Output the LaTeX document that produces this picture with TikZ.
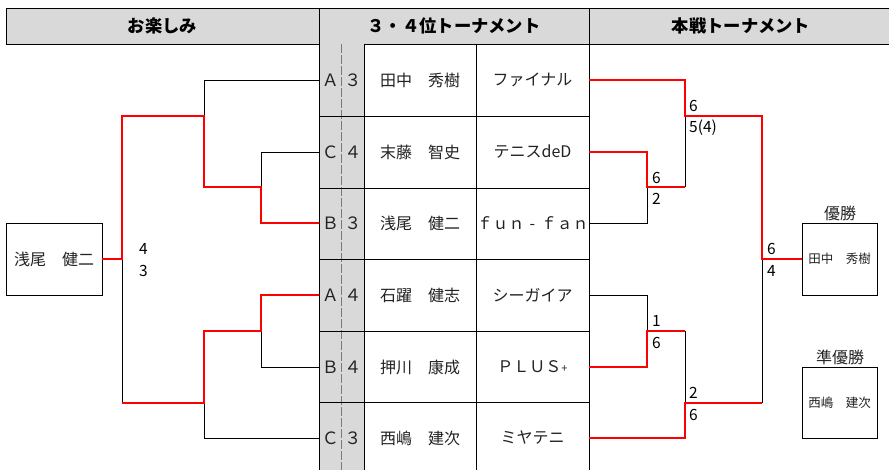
\documentclass[tikz,border=0pt]{standalone}
\usepackage{fontspec}
\setmainfont{Noto Sans CJK JP}
\definecolor{hdrgray}{HTML}{D9D9D9}
\definecolor{dashgray}{HTML}{7A7A7A}
\definecolor{txt}{HTML}{222222}
\begin{document}
\begin{tikzpicture}[x=1pt,y=-1pt,
  win/.style={draw=red,line width=1.9pt},
  lose/.style={draw=black,line width=0.9pt},
  grid/.style={draw=black,line width=0.9pt},
  head/.style={inner sep=0pt,font=\fontsize{17.3}{18}\selectfont\bfseries},
  lettercell/.style={inner sep=0pt,minimum width=22.5pt,minimum height=71pt,text=txt,font=\fontsize{17}{17}\selectfont},
  placecell/.style={inner sep=0pt,minimum width=22.5pt,minimum height=71pt,text=txt,font=\fontsize{17}{17}\selectfont},
  namecell/.style={inner sep=0pt,minimum width=112pt,minimum height=71pt,text=txt,font=\fontsize{16}{16}\selectfont},
  teamcell/.style={inner sep=0pt,minimum width=113pt,minimum height=71pt,text=txt,font=\fontsize{16}{16}\selectfont},
  resultbox/.style={draw=black,line width=0.9pt,inner sep=0pt,text=txt},
  boxlabel/.style={inner sep=0pt,text=txt,font=\fontsize{16}{16}\selectfont},
  score/.style={inner sep=0pt,anchor=west,text=black,font=\fontsize{15.5}{15.5}\selectfont}]
\useasboundingbox (0,0) rectangle (889,470);
% header
\fill[hdrgray] (6,8) rectangle (889,44);
\draw[grid] (889,8) -- (6,8) -- (6,44) -- (889,44);
\node[head] (h1) at (162.5,26) {お楽しみ};
\node[head] (h2) at (454,26) {３・４位トーナメント};
\node[head] (h3) at (741,26) {本戦トーナメント};
% table background
\fill[hdrgray] (319,44) rectangle (364,470);
\draw[dashgray,line width=1.2pt,dash pattern=on 9pt off 2pt] (341.5,44) -- (341.5,470);
\draw[grid] (319,8) -- (319,470);
\draw[grid] (589,8) -- (589,470);
\draw[grid] (364,44) -- (364,470);
\draw[grid] (476,44) -- (476,470);
\foreach \yy in {116,188,259,331,402} \draw[grid] (319,\yy) -- (589,\yy);
% cells
\foreach \i/\yy/\g/\p/\n/\t in {
  1/80/Ａ/３/田中　秀樹/ファイナル,
  2/152/Ｃ/４/末藤　智史/テニスdeD,
  3/223/Ｂ/３/浅尾　健二/ｆｕｎ\makebox[1em]{-}ｆａｎ,
  4/295/Ａ/４/石躍　健志/シーガイア,
  5/367/Ｂ/４/押川　康成/ＰＬＵＳ\raisebox{0.5pt}{\fontsize{11}{11}\selectfont +},
  6/438/Ｃ/３/西嶋　建次/ミヤテニ}{
  \node[lettercell] (g\i) at (330.25,\yy) {\g};
  \node[placecell] (p\i) at (352.75,\yy) {\p};
  \node[namecell] (n\i) at (420,\yy) {\n};
  \node[teamcell] (t\i) at (532.5,\yy) {\t};
}
% boxes
\node[resultbox,minimum width=96pt,minimum height=72pt,font=\fontsize{16}{16}\selectfont] (lb) at (54,259) {浅尾　健二};
\node[resultbox,minimum width=75pt,minimum height=72pt,font=\fontsize{12.5}{13}\selectfont] (wb) at (839.5,259) {田中　秀樹};
\node[resultbox,minimum width=75pt,minimum height=71pt,font=\fontsize{12.5}{13}\selectfont] (rb) at (839.5,402.5) {西嶋　建次};
\node[boxlabel,anchor=south] (wl) at (840,221) {優勝};
\node[boxlabel,anchor=south] (rl) at (840,365) {準優勝};
% junctions
\coordinate (L1) at (261,187);
\coordinate (L2) at (204,116);
\coordinate (L3) at (122,259);
\coordinate (L4) at (261,331);
\coordinate (L5) at (204,403);
\coordinate (R1) at (647,187);
\coordinate (R2) at (685,116);
\coordinate (R3) at (762,259);
\coordinate (R4) at (647,331);
\coordinate (R5) at (685,403);
% losing lines
\draw[lose] (g1.west) -| (L2);
\draw[lose] (g2.west) -| (L1);
\draw[lose] (L3) -- (L3 |- L5);
\draw[lose] (g5.west) -| (L4);
\draw[lose] (g6.west) -| (L5);
\draw[lose] (R2) -- (R2 |- R1);
\draw[lose] (t3.east) -| (R1);
\draw[lose] (t4.east) -| (R4);
\draw[lose] (R4 -| R5) -- (R5);
\draw[lose] (R3) -- (R3 |- R5);
% winning lines
\draw[win] (g3.west) -| (L1) -- (L1 -| L2) -- (L2) -| (L3) -- (lb.east);
\draw[win] (g4.west) -| (L4) -- (L4 -| L5) -- (L5) -- (L5 -| L3);
\draw[win] (t1.east) -| (R2) -- (R2 -| R3) -- (R3) -- (wb.west);
\draw[win] (t2.east) -| (R1) -- (R1 -| R2);
\draw[win] (t5.east) -| (R4) -- (R4 -| R5);
\draw[win] (t6.east) -| (R5) -- (R5 -| R3);
% scores
\node[score] (s1) at (139,249) {4};
\node[score] (s2) at (139,271) {3};
\node[score] (s3) at (652,178) {6};
\node[score] (s4) at (652,199) {2};
\node[score] (s5) at (689,106) {6};
\node[score] (s6) at (689,128) {5(4)};
\node[score] (s7) at (767,249) {6};
\node[score] (s8) at (767,271) {4};
\node[score] (s9) at (652,321) {1};
\node[score] (s10) at (652,343) {6};
\node[score] (s11) at (689,393) {2};
\node[score] (s12) at (689,415) {6};
\end{tikzpicture}
\end{document}
